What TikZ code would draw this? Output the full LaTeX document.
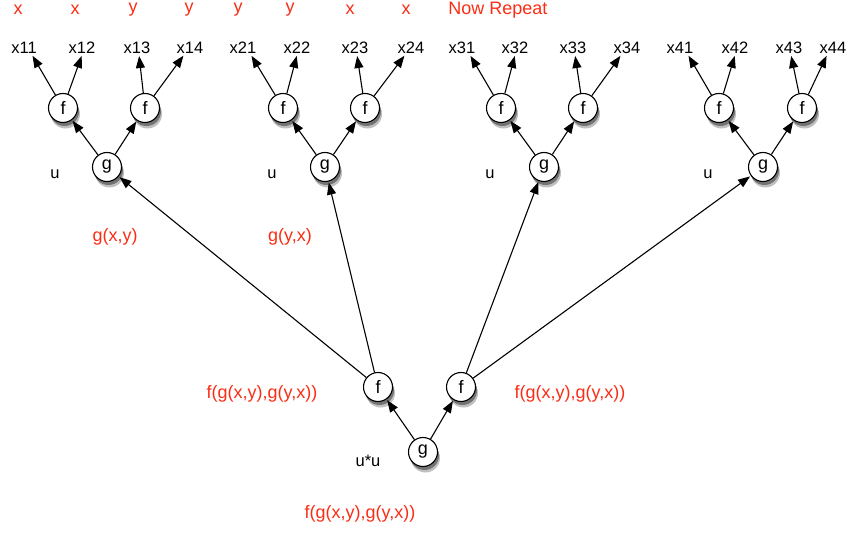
\documentclass[tikz,border=0pt]{standalone}
\usepackage{fontspec}
\setmainfont{Liberation Sans}
\usetikzlibrary{arrows.meta,shadows}
\definecolor{lblred}{RGB}{250,45,20}
\begin{document}
\begin{tikzpicture}[x=1pt,y=-1pt,
  every node/.style={font=\fontsize{16.5}{18}\selectfont},
  op/.style={circle,draw,line width=1.1pt,fill=white,minimum size=29pt,inner sep=0pt,
    font=\fontsize{18}{20}\selectfont,
    drop shadow={shadow xshift=2.5pt,shadow yshift=-6pt,opacity=0.25,fill=black},
    drop shadow={shadow xshift=1.5pt,shadow yshift=-3.5pt,opacity=0.4,fill=black}},
  redlbl/.style={text=lblred,font=\fontsize{18}{20}\selectfont},
  blk/.style={text=black,inner sep=1pt},
  arr/.style={-{Triangle[length=12pt,width=9pt]},line width=1.1pt,shorten >=1pt}]
\useasboundingbox (0,0) rectangle (851,534);
% top red labels
\node[redlbl] (t1) at (18,10) {x};
\node[redlbl] (t2) at (75,10) {x};
\node[redlbl] (t3) at (133,10) {y};
\node[redlbl] (t4) at (189,10) {y};
\node[redlbl] (t5) at (238,10) {y};
\node[redlbl] (t6) at (290,10) {y};
\node[redlbl] (t7) at (350,10) {x};
\node[redlbl] (t8) at (406,10) {x};
\node[redlbl] (t9) at (498,10) {Now Repeat};
% leaf labels
\foreach \n/\x in {11/24,12/82,13/137,14/190,21/243,22/297,23/355,24/411,31/462,32/515,33/573,34/627,41/680,42/735,43/789,44/833}
  \node[blk] (x\n) at (\x,48) {x\n};
% f and g nodes of trees
\foreach \i/\a/\b/\c in {1/63/145/107,2/283/365/325,3/501/583/544,4/719/802/763}{
  \node[op] (fa\i) at (\a,108) {f};
  \node[op] (fb\i) at (\b,108) {f};
  \node[op] (g\i) at (\c,167) {g};
}
\foreach \i/\ux in {1/55,2/272,3/490,4/708}
  \node[blk] (u\i) at (\ux,174) {u};
% arrows in trees
\foreach \i/\p/\q/\r/\s in {1/11/12/13/14,2/21/22/23/24,3/31/32/33/34,4/41/42/43/44}{
  \draw[arr] (fa\i) -- ([xshift=8pt]x\p.south);
  \draw[arr] (fa\i) -- (x\q.south);
  \draw[arr] (fb\i) -- ([xshift=2pt]x\r.south);
  \draw[arr] (fb\i) -- ([xshift=-6pt]x\s.south);
  \draw[arr] (g\i) -- (fa\i);
  \draw[arr] (g\i) -- (fb\i);
}
\node[redlbl] (gxy) at (115,237) {g(x,y)};
\node[redlbl] (gyx) at (290,237) {g(y,x)};
% bottom part
\node[op] (fl) at (378,387) {f};
\node[op] (fr) at (461,387) {f};
\node[op] (gb) at (423,452) {g};
\node[blk] (uu) at (368,461) {u*u};
\node[redlbl] (lf1) at (262,394) {f(g(x,y),g(y,x))};
\node[redlbl] (lf2) at (570,394) {f(g(x,y),g(y,x))};
\node[redlbl] (lf3) at (360,514) {f(g(x,y),g(y,x))};
\draw[arr] (gb) -- (fl);
\draw[arr] (gb) -- (fr);
\draw[arr] (fl) -- (g1);
\draw[arr] (fl) -- (g2);
\draw[arr] (fr) -- (g3);
\draw[arr] (fr) -- (g4);
\end{tikzpicture}
\end{document}
